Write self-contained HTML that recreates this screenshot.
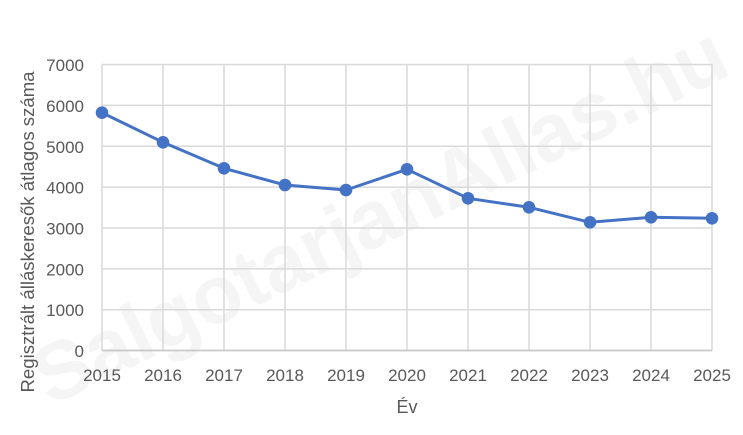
<!DOCTYPE html>
<html><head><meta charset="utf-8"><style>
html,body{margin:0;padding:0;background:#fff;}
svg{display:block;font-family:"Liberation Sans",sans-serif;}
</style></head><body>
<svg width="743" height="435" viewBox="0 0 743 435" xmlns="http://www.w3.org/2000/svg">
<rect width="743" height="435" fill="#fff"/>
<text x="0" y="0" transform="translate(392,240) rotate(-26)" text-anchor="middle" font-size="82" font-weight="bold" fill="#f5f5f5" textLength="760" lengthAdjust="spacingAndGlyphs">SalgotarjanAllas.hu</text>
<g stroke="#d9d9d9" stroke-width="1.5" fill="none">
<line x1="102" y1="64.5" x2="712" y2="64.5"/>
<line x1="102" y1="105.4" x2="712" y2="105.4"/>
<line x1="102" y1="146.3" x2="712" y2="146.3"/>
<line x1="102" y1="187.1" x2="712" y2="187.1"/>
<line x1="102" y1="228" x2="712" y2="228"/>
<line x1="102" y1="268.9" x2="712" y2="268.9"/>
<line x1="102" y1="309.7" x2="712" y2="309.7"/>
<line x1="102" y1="64.5" x2="102" y2="350.5"/>
<line x1="163" y1="64.5" x2="163" y2="350.5"/>
<line x1="224" y1="64.5" x2="224" y2="350.5"/>
<line x1="285" y1="64.5" x2="285" y2="350.5"/>
<line x1="346" y1="64.5" x2="346" y2="350.5"/>
<line x1="407" y1="64.5" x2="407" y2="350.5"/>
<line x1="468" y1="64.5" x2="468" y2="350.5"/>
<line x1="529" y1="64.5" x2="529" y2="350.5"/>
<line x1="590" y1="64.5" x2="590" y2="350.5"/>
<line x1="651" y1="64.5" x2="651" y2="350.5"/>
<line x1="712" y1="64.5" x2="712" y2="350.5"/>
</g>
<line x1="102" y1="350.5" x2="712" y2="350.5" stroke="#c8c8c8" stroke-width="1.8"/>
<g font-size="17" fill="#595959" text-anchor="end">
<text x="84" y="71">7000</text>
<text x="84" y="111.9">6000</text>
<text x="84" y="152.8">5000</text>
<text x="84" y="193.6">4000</text>
<text x="84" y="234.5">3000</text>
<text x="84" y="275.4">2000</text>
<text x="84" y="316.2">1000</text>
<text x="84" y="357">0</text>
</g>
<g font-size="17" fill="#595959" text-anchor="middle">
<text x="102" y="381">2015</text>
<text x="163" y="381">2016</text>
<text x="224" y="381">2017</text>
<text x="285" y="381">2018</text>
<text x="346" y="381">2019</text>
<text x="407" y="381">2020</text>
<text x="468" y="381">2021</text>
<text x="529" y="381">2022</text>
<text x="590" y="381">2023</text>
<text x="651" y="381">2024</text>
<text x="712" y="381">2025</text>
</g>
<text x="407" y="413" font-size="18" fill="#595959" text-anchor="middle">Év</text>
<text x="0" y="0" transform="translate(34,232) rotate(-90)" font-size="18" fill="#595959" text-anchor="middle" textLength="321" lengthAdjust="spacingAndGlyphs">Regisztrált álláskeresők átlagos száma</text>
<polyline fill="none" stroke="#4472C4" stroke-width="3" stroke-linejoin="round" points="102,112.7 163,142.3 224,168.3 285,185 346,190 407,169.3 468,198.3 529,207.3 590,222.3 651,217.3 712,218.3"/>
<g fill="#4472C4">
<circle cx="102" cy="112.7" r="6.3"/>
<circle cx="163" cy="142.3" r="6.3"/>
<circle cx="224" cy="168.3" r="6.3"/>
<circle cx="285" cy="185" r="6.3"/>
<circle cx="346" cy="190" r="6.3"/>
<circle cx="407" cy="169.3" r="6.3"/>
<circle cx="468" cy="198.3" r="6.3"/>
<circle cx="529" cy="207.3" r="6.3"/>
<circle cx="590" cy="222.3" r="6.3"/>
<circle cx="651" cy="217.3" r="6.3"/>
<circle cx="712" cy="218.3" r="6.3"/>
</g>
</svg>
</body></html>
